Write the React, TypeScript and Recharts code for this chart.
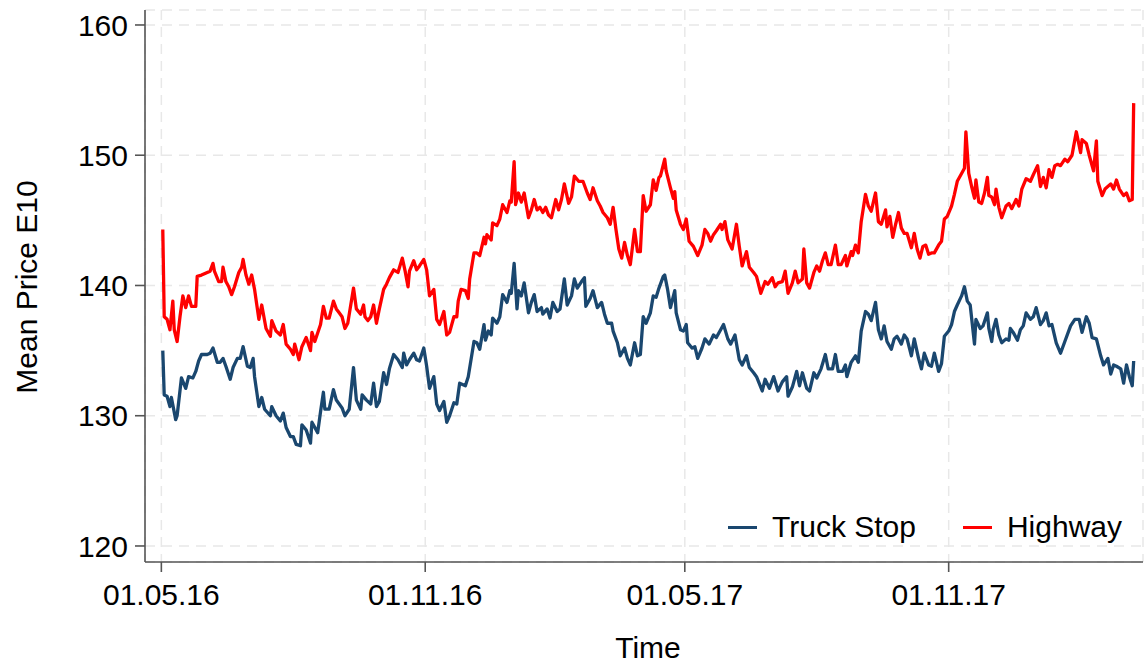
import { LineChart, Line, XAxis, YAxis, CartesianGrid, Legend, Label } from 'recharts';

// days since 01.05.16
const truckDays = [1,2,4,6,7,10,11,14,17,19,22,24,26,28,32,34,36,39,41,43,45,48,50,53,55,57,60,62,64,65,68,70,72,76,77,80,83,85,87,90,92,94,97,98,101,104,105,109,111,113,114,117,120,122,124,126,128,131,134,136,139,140,143,146,148,150,152,155,157,159,162,165,168,169,171,173,176,178,180,183,185,187,190,192,194,197,199,201,204,206,208,212,214,218,220,222,225,226,228,230,231,234,236,238,241,243,244,246,248,249,251,253,256,258,260,262,265,266,269,271,273,276,278,281,283,286,288,290,293,295,296,299,301,304,307,309,311,314,315,318,320,323,325,327,330,332,334,336,338,341,343,345,347,350,351,353,355,358,359,362,364,366,367,370,372,374,377,379,382,385,387,390,392,395,397,400,403,405,408,410,413,415,419,421,424,427,430,433,436,437,440,443,445,447,450,452,455,457,460,463,465,468,470,472,475,477,478,481,484,486,488,491,493,495,498,500,502,504,506,509,511,513,516,518,520,523,525,528,530,532,535,537,539,542,544,546,549,551,553,555,558,560,562,564,567,568,571,573,576,577,579,580,582,584,586,589,591,592,594,597,599,601,603,606,608,610,613,615,617,619,621,624,627,630,634,637,640,642,645,647,649,652,655,657,660,662,664,666,669,671,673,675,677,678];
const truckPrice = [135.0,131.6,131.5,130.7,131.4,129.7,130.0,132.9,132.1,133.0,132.9,133.4,134.2,134.7,134.7,134.8,135.2,134.1,134.1,134.4,133.8,132.8,133.7,134.4,134.4,135.3,133.8,133.7,134.4,133.0,130.7,131.4,130.5,130.0,130.7,130.0,129.6,130.2,129.1,128.4,128.4,127.8,127.7,129.3,128.9,127.9,129.5,128.7,130.3,131.8,130.5,130.5,132.0,131.2,130.9,130.6,130.0,130.5,133.7,131.2,130.5,131.6,131.2,130.9,132.5,130.7,131.1,133.3,132.4,133.6,134.7,134.3,133.7,134.8,133.9,134.3,134.8,134.3,134.2,135.2,133.8,132.1,133.0,130.9,130.4,131.1,129.5,130.0,131.0,130.9,132.5,132.3,133.0,135.7,135.6,135.1,137.0,135.8,136.5,136.2,137.5,137.1,137.6,139.3,138.7,139.6,139.4,141.7,138.2,139.6,139.2,140.2,137.9,138.7,139.3,138.0,138.3,137.8,138.2,137.5,138.7,138.0,138.2,140.5,138.5,139.2,140.5,139.8,140.3,140.6,138.4,139.0,139.6,138.3,138.7,137.8,137.1,137.1,136.5,135.6,134.6,135.2,134.4,133.9,135.6,134.6,134.7,137.6,137.1,137.9,139.2,139.1,139.8,140.7,140.8,139.7,138.3,139.6,137.9,136.6,136.5,137.0,135.6,135.2,135.3,134.4,135.2,135.9,135.5,136.2,136.0,136.6,137.0,135.9,135.5,136.2,134.3,133.9,134.6,133.7,133.3,133.0,131.9,132.8,132.1,133.0,131.9,132.6,133.0,131.5,132.2,133.4,132.3,133.3,132.1,131.9,133.3,132.9,133.6,134.7,133.6,133.6,134.7,133.4,133.4,133.9,133.0,134.1,134.6,134.1,136.5,138.0,137.8,137.3,138.7,136.6,135.9,136.9,135.7,135.1,135.9,136.1,135.5,136.2,135.9,134.6,135.9,134.4,133.6,134.8,133.9,133.8,134.8,133.4,134.0,136.1,136.5,137.0,138.0,138.5,139.2,139.9,138.8,138.5,135.5,137.4,136.7,136.9,137.9,136.7,135.7,136.6,137.4,136.2,135.6,135.9,135.8,136.7,136.4,135.8,136.6,136.9,137.9,137.4,137.6,138.3,137.0,137.3,137.9,136.9,137.0,135.6,134.8,135.7,136.9,137.4,137.4,136.4,137.6,137.1,136.0,135.9,134.6,133.9,134.4,133.2,133.9,133.8,133.6,132.5,133.9,133.0,132.3,134.2];

const highwayDays = [1,2,4,6,8,9,11,13,15,17,19,21,24,25,28,32,34,36,37,40,42,43,45,47,49,51,54,56,57,59,61,63,65,68,70,73,76,77,80,83,85,87,90,92,93,96,98,101,104,105,107,111,113,115,117,120,122,124,126,128,130,134,136,139,141,142,144,146,148,150,152,155,157,159,162,165,168,170,172,173,176,178,180,183,185,187,190,192,194,197,199,201,204,206,207,209,212,214,215,218,220,222,225,226,227,230,231,234,236,238,241,243,244,246,247,249,251,253,256,258,260,262,264,266,268,270,272,275,277,279,281,284,286,288,291,294,297,299,301,304,306,308,311,313,315,317,319,321,323,325,327,330,332,334,336,338,341,343,345,347,348,351,352,355,357,358,359,362,364,366,368,371,374,377,379,381,383,385,387,390,391,393,395,398,401,403,405,408,410,413,415,418,421,423,426,428,430,433,435,437,440,442,444,447,448,450,452,455,457,459,461,463,465,467,470,472,474,477,478,481,482,484,486,488,491,493,495,498,500,502,505,506,508,510,512,514,516,518,520,523,525,527,529,531,533,535,537,539,542,544,546,548,551,553,555,558,560,561,563,565,567,568,570,572,574,576,577,579,581,582,584,586,589,591,593,596,598,600,603,606,608,611,613,615,617,619,621,623,625,627,630,632,635,636,638,641,642,645,647,650,652,653,656,658,662,664,666,668,671,673,675,677,678];
const highwayPrice = [144.3,137.6,137.4,136.6,138.8,136.6,135.7,137.6,139.2,138.3,139.2,138.4,138.4,140.7,140.8,141.0,141.1,141.7,141.1,140.3,140.3,141.4,140.3,139.9,139.3,139.9,141.0,141.4,142.0,140.8,140.1,140.8,139.7,137.4,138.5,136.7,136.1,137.3,136.5,136.2,137.0,135.5,135.1,134.7,135.5,134.3,135.3,136.0,135.0,136.4,135.7,137.0,138.4,137.5,137.5,138.8,138.2,137.9,137.6,136.7,137.1,139.8,138.2,137.8,138.5,137.6,137.3,137.6,138.5,137.1,138.2,139.7,140.1,140.6,141.2,141.0,142.1,141.1,139.9,141.1,141.9,141.2,141.5,142.0,141.2,139.2,139.7,137.4,137.0,138.0,136.2,136.4,137.6,137.6,138.8,139.7,139.6,139.0,140.5,142.5,142.5,142.3,143.7,143.2,143.9,143.5,144.8,144.6,145.1,146.2,145.6,146.5,146.4,149.5,146.2,147.1,146.4,147.1,145.2,145.8,146.6,145.8,146.0,145.6,146.0,145.4,145.2,146.6,145.8,146.6,147.8,146.3,146.8,148.4,148.0,148.0,147.1,146.6,147.5,146.5,146.1,145.6,145.2,144.7,146.0,144.3,142.8,142.1,143.3,142.3,141.6,144.3,142.6,142.6,146.9,145.7,146.2,148.1,147.3,148.3,148.4,149.7,148.8,147.5,146.7,147.2,145.8,144.7,144.3,145.1,143.4,143.0,142.3,143.1,144.3,144.0,143.4,143.9,144.2,144.7,144.3,144.9,143.5,142.8,144.7,143.0,141.5,142.6,141.4,141.0,140.7,139.4,140.3,140.1,140.6,139.9,140.2,140.3,141.1,139.4,140.2,141.1,140.2,140.5,142.8,140.2,139.8,141.0,141.5,141.1,141.9,142.5,141.6,141.6,143.1,141.6,141.6,142.3,141.5,142.6,142.3,143.1,142.5,144.9,147.0,146.1,145.7,147.1,144.9,144.7,145.8,144.5,145.3,143.7,144.7,145.6,144.4,144.0,144.0,142.9,144.0,142.8,142.1,143.0,143.1,142.4,142.5,142.5,143.1,143.4,145.1,145.3,146.1,147.0,148.0,148.6,149.0,151.8,148.6,147.6,146.7,148.1,146.4,146.3,147.1,148.3,146.9,146.8,146.2,147.4,146.0,145.2,146.1,146.3,145.9,146.6,146.1,147.4,148.2,148.0,148.5,149.2,147.6,148.3,147.5,148.9,148.3,149.2,149.3,149.2,149.7,149.5,150.0,150.6,151.8,150.2,151.2,150.9,150.0,148.8,151.1,148.0,146.9,147.4,147.8,147.4,148.1,147.4,146.9,147.1,146.5,146.6,154.0];

const xTickDays = [0, 184, 365, 549];
const xTickLabels = ['01.05.16', '01.11.16', '01.05.17', '01.11.17'];
const yTicks = [120, 130, 140, 150, 160];

const seriesNames = ['Truck Stop', 'Highway'];
const COLORS = { truck: '#1a476f', highway: '#ff0000', axis: '#555555', grid: '#e8e8e8' };
const FONT = 'Arial, "Liberation Sans", sans-serif';

const truckData = truckDays.map((d, i) => ({ day: d, price: truckPrice[i] }));
const highwayData = highwayDays.map((d, i) => ({ day: d, price: highwayPrice[i] }));

const LegendContent = () => (
  <div style={{ display: 'flex', alignItems: 'center', fontFamily: FONT, fontSize: 30, color: '#000', whiteSpace: 'nowrap' }}>
    <div style={{ width: 29, height: 3, background: COLORS.truck, marginRight: 15 }} />
    <span style={{ marginRight: 47 }}>{seriesNames[0]}</span>
    <div style={{ width: 29, height: 3, background: COLORS.highway, marginRight: 15 }} />
    <span>{seriesNames[1]}</span>
  </div>
);

export default function App() {
  return (
    <div style={{ width: 1145, height: 662, background: '#fff', fontFamily: FONT }}>
      <style>{'body{margin:0}'}</style>
      <LineChart width={1145} height={662} margin={{ top: 10, right: 2, bottom: 0, left: 0 }}>
        <CartesianGrid stroke={COLORS.grid} strokeWidth={1.5} strokeDasharray="10 7" />
        <XAxis
          dataKey="day"
          type="number"
          domain={[-11.4, 684.5]}
          allowDataOverflow
          ticks={xTickDays}
          tickFormatter={(v) => xTickLabels[xTickDays.indexOf(v)]}
          height={100}
          tickSize={10}
          tickMargin={12}
          stroke={COLORS.axis}
          strokeWidth={1.6}
          tick={{ fill: '#000', fontSize: 30, fontFamily: FONT }}
        >
          <Label
            content={() => (
              <text x={648} y={647} textAnchor="middle" dominantBaseline="central" fontSize={30} fontFamily={FONT} fill="#000">
                Time
              </text>
            )}
          />
        </XAxis>
        <YAxis
          type="number"
          domain={[118.77, 161.15]}
          allowDataOverflow
          ticks={yTicks}
          width={145}
          tickSize={10}
          tickMargin={7}
          stroke={COLORS.axis}
          strokeWidth={1.6}
          tick={{ fill: '#000', fontSize: 30, fontFamily: FONT }}
        >
          <Label
            content={() => (
              <text x={26} y={287} transform="rotate(-90 26 287)" textAnchor="middle" dominantBaseline="central" fontSize={30} fontFamily={FONT} fill="#000">
                Mean Price E10
              </text>
            )}
          />
        </YAxis>
        <Legend
          layout="horizontal"
          verticalAlign="middle"
          align="center"
          content={<LegendContent />}
          wrapperStyle={{ left: 728, top: 510, width: 'auto' }}
        />
        <Line data={truckData} dataKey="price" name={seriesNames[0]} type="linear" stroke={COLORS.truck} strokeWidth={3.3} strokeLinejoin="round" dot={false} isAnimationActive={false} />
        <Line data={highwayData} dataKey="price" name={seriesNames[1]} type="linear" stroke={COLORS.highway} strokeWidth={3.3} strokeLinejoin="round" dot={false} isAnimationActive={false} />
      </LineChart>
    </div>
  );
}
